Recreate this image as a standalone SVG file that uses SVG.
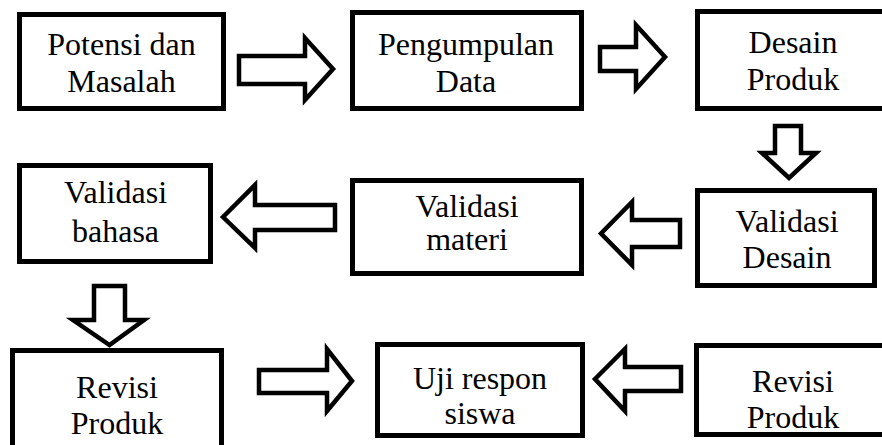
<svg xmlns="http://www.w3.org/2000/svg" width="882" height="445" viewBox="0 0 882 445">
<style>
.box{fill:#fff;stroke:#000;stroke-width:5}
.arr{fill:#fff;stroke:#000;stroke-width:4.5;stroke-linejoin:miter;stroke-miterlimit:10}
</style>
<rect width="882" height="445" fill="#fff"/>
<g font-family="Liberation Serif" font-size="32" text-anchor="middle" fill="#000">
<g id="n1"><rect class="box" x="19.5" y="14.5" width="204" height="94"/><text x="121.5" y="55">Potensi dan</text><text x="121.5" y="92">Masalah</text></g>
<g id="n2"><rect class="box" x="352.5" y="12.5" width="229" height="96"/><text x="466" y="55">Pengumpulan</text><text x="466" y="92">Data</text></g>
<g id="n3"><rect class="box" x="697.5" y="11.5" width="200" height="97"/><text x="793" y="53">Desain</text><text x="793" y="90">Produk</text></g>
<g id="n4"><rect class="box" x="697.5" y="190.5" width="177" height="95"/><text x="787" y="232">Validasi</text><text x="787" y="268">Desain</text></g>
<g id="n5"><rect class="box" x="352.5" y="180.5" width="229" height="93"/><text x="467" y="217">Validasi</text><text x="467" y="250">materi</text></g>
<g id="n6"><rect class="box" x="19.5" y="165.5" width="191" height="96"/><text x="115.5" y="203">Validasi</text><text x="115.5" y="242">bahasa</text></g>
<g id="n7"><rect class="box" x="12.5" y="350.5" width="209" height="110"/><text x="117" y="398">Revisi</text><text x="117" y="434">Produk</text></g>
<g id="n8"><rect class="box" x="377.5" y="344.5" width="205" height="91"/><text x="480" y="389">Uji respon</text><text x="480" y="424">siswa</text></g>
<g id="n9"><rect class="box" x="696.5" y="345.5" width="200" height="89"/><text x="793" y="392">Revisi</text><text x="793" y="428">Produk</text></g>
</g>
<g id="connectors">
<polygon class="arr" points="239,56 305,56 305,38 333,69 305,100 305,84 239,84"/>
<polygon class="arr" points="600,47 636,47 636,25 665,57 636,89 636,71 600,71"/>
<polygon class="arr" points="775,126 801,126 801,153 816,153 789,178 762,153 775,153"/>
<polygon class="arr" points="601,233.5 632,202 632,220 680,220 680,247 632,247 632,265"/>
<polygon class="arr" points="223,217 255,185 255,205 335,205 335,230 255,230 255,248"/>
<polygon class="arr" points="94,286 125,286 125,320 144,320 109.5,345 73,320 94,320"/>
<polygon class="arr" points="259,370 327,370 327,349 352,381 327,411 327,393 259,393"/>
<polygon class="arr" points="595,379 625,349 625,367 681,367 681,391 625,391 625,411"/>
</g>
</svg>
